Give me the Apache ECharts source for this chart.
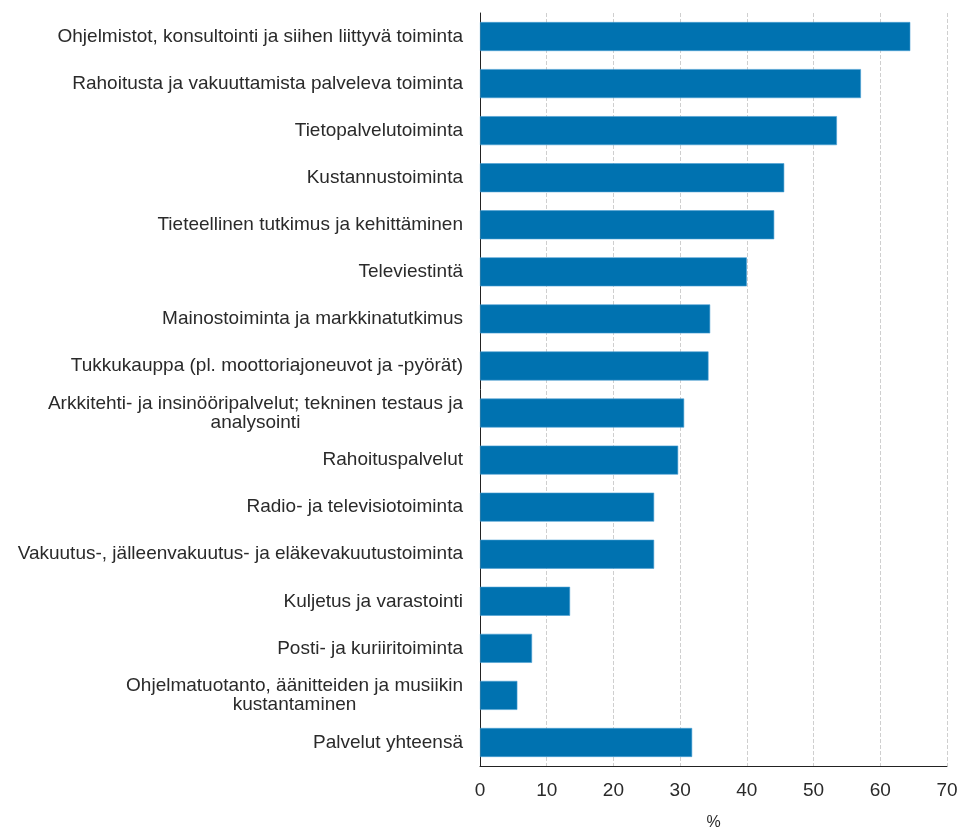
<!DOCTYPE html>
<html><head><meta charset="utf-8">
<script src="https://cdn.jsdelivr.net/npm/echarts@6/dist/echarts.min.js"></script>
<style>html,body{margin:0;padding:0;background:#fff}#c{width:960px;height:829px}</style>
</head><body><div id="c"></div>
<script>
var categories = [
  "Ohjelmistot, konsultointi ja siihen liittyvä toiminta",
  "Rahoitusta ja vakuuttamista palveleva toiminta",
  "Tietopalvelutoiminta",
  "Kustannustoiminta",
  "Tieteellinen tutkimus ja kehittäminen",
  "Televiestintä",
  "Mainostoiminta ja markkinatutkimus",
  "Tukkukauppa (pl. moottoriajoneuvot ja -pyörät)",
  "Arkkitehti- ja insinööripalvelut; tekninen testaus ja\nanalysointi",
  "Rahoituspalvelut",
  "Radio- ja televisiotoiminta",
  "Vakuutus-, jälleenvakuutus- ja eläkevakuutustoiminta",
  "Kuljetus ja varastointi",
  "Posti- ja kuriiritoiminta",
  "Ohjelmatuotanto, äänitteiden ja musiikin\nkustantaminen",
  "Palvelut yhteensä"
];
var values = [64.5, 57.1, 53.5, 45.6, 44.1, 40.0, 34.5, 34.25, 30.6, 29.7, 26.1, 26.1, 13.5, 7.8, 5.6, 31.8];
var xTicks = [0, 10, 20, 30, 40, 50, 60, 70];
var xName = "%";

var chart = echarts.init(document.getElementById('c'));
var font = "'Liberation Sans', Arial, sans-serif";
var fs = 19;
var txt = '#2a2a2a';
chart.setOption({
  animation: false,
  grid: {left: 480, right: 13, top: 13, bottom: 63, containLabel: false, outerBoundsMode: 'none'},
  xAxis: {
    type: 'value', min: xTicks[0], max: xTicks[xTicks.length - 1], interval: 10,
    name: xName, nameLocation: 'middle', nameGap: 49,
    nameTextStyle: {fontFamily: font, fontSize: 16, color: txt},
    axisLine: {show: true, lineStyle: {color: '#222', width: 1}},
    axisTick: {show: false},
    axisLabel: {fontFamily: font, fontSize: fs, color: txt, margin: 15},
    splitLine: {show: true, lineStyle: {color: '#cfcfcf', type: 'dashed', width: 1}}
  },
  yAxis: {
    type: 'category', data: categories, inverse: true,
    axisLine: {show: true, lineStyle: {color: '#222', width: 1}},
    axisTick: {show: false},
    splitLine: {show: false},
    axisLabel: {
      fontFamily: font, fontSize: fs, color: txt, margin: 17, lineHeight: 19,
      formatter: function (v) {
        var parts = v.split('\n');
        if (parts.length === 1) return v;
        return '{a|' + parts[0] + '}\n{b|' + parts[1] + '}';
      },
      rich: {
        a: {fontFamily: font, fontSize: fs, color: txt, lineHeight: 19, align: 'right'},
        b: {fontFamily: font, fontSize: fs, color: txt, lineHeight: 19, align: 'center'}
      }
    }
  },
  series: [{
    type: 'bar', data: values, barWidth: 29,
    itemStyle: {color: '#0072b0', borderColor: '#4a9fd4', borderWidth: 0.6}
  }]
});
</script></body></html>
